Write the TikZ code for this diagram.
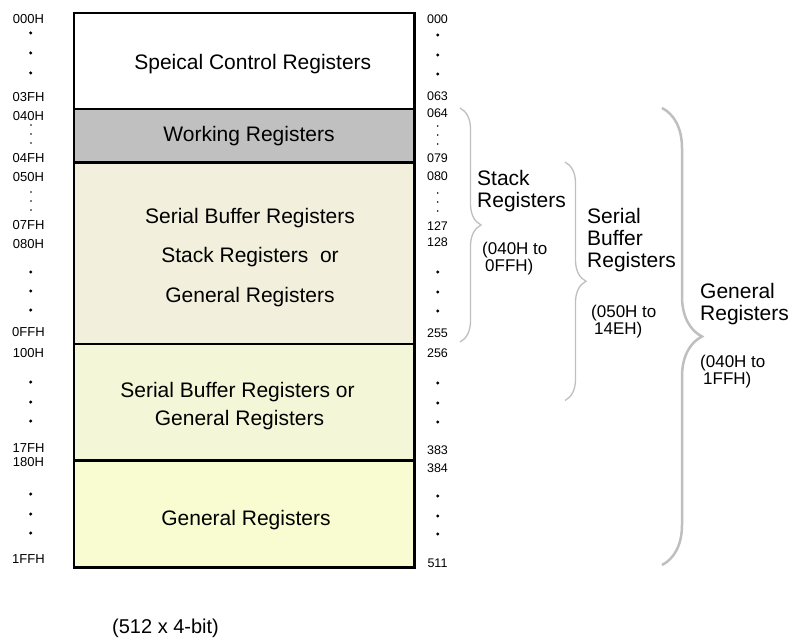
\documentclass[tikz,border=0pt]{standalone}
\usepackage{fontspec}
\setmainfont{Liberation Sans}
\usetikzlibrary{decorations.pathreplacing}
\tikzset{
  hexlabel/.style={font=\fontsize{13}{15}\selectfont, inner sep=0pt, anchor=base},
  declabel/.style={font=\fontsize{12.5}{15}\selectfont, inner sep=0pt, anchor=base},
  boxtext/.style={font=\fontsize{21}{24}\selectfont, inner sep=0pt, anchor=base},
  bracetext/.style={font=\fontsize{21}{22}\selectfont, inner sep=0pt, anchor=north west, align=left},
  rangetext/.style={font=\fontsize{17}{17}\selectfont, inner sep=0pt, anchor=north west, align=left},
  regbrace/.style={draw={rgb, 255:red, 191; green, 191; blue, 191}, line width=1.3, decorate, decoration={brace, amplitude=#1}},
  regline/.style={line width=2.7, line cap=rect}
}

\begin{document}
\begin{tikzpicture}[x=1pt,y=1pt,yscale=-1,xscale=1]
\useasboundingbox (0,0) rectangle (790,639);

%Shape: Rectangle (register areas)
\fill [color={rgb, 255:red, 192; green, 192; blue, 192 }] (74,109) rectangle (414.5,162.5);
\fill [color={rgb, 255:red, 242; green, 240; blue, 220 }] (74,162.5) rectangle (414.5,344);
\fill [color={rgb, 255:red, 243; green, 247; blue, 216 }] (74,344) rectangle (414.5,460.5);
\fill [color={rgb, 255:red, 249; green, 252; blue, 208 }] (74,460.5) rectangle (414.5,567.5);
%Straight Lines
\foreach \y in {109,162.5,344,460.5}
  \draw [regline] (74,\y) -- (414.5,\y);
\draw [regline] (74,13) rectangle (414.5,567.5);

% Text Node
\node (sctext) [boxtext] at (252.8,70) {Speical Control Registers};
\node (wrtext) [boxtext] at (249,142) {Working Registers};
\node (sbtextA) [boxtext] at (250,223.5) {Serial Buffer Registers};
\node (sbtextB) [boxtext] at (250,262.5) {Stack Registers\ \ or};
\node (sbtextC) [boxtext] at (250,302.5) {General Registers};
\node (sgtextA) [boxtext] at (237.5,397) {Serial Buffer Registers or};
\node (sgtextB) [boxtext] at (239.5,425) {General Registers};
\node (gentext) [boxtext] at (246,525) {General Registers};

% Text Node (hex addresses)
\node (hA) [hexlabel] at (28.5,24) {000H};
\node (hB) [hexlabel] at (28.5,102) {03FH};
\node (hC) [hexlabel] at (28.5,121) {040H};
\node (hD) [hexlabel] at (28.5,163) {04FH};
\node (hE) [hexlabel] at (28.5,181.5) {050H};
\node (hF) [hexlabel] at (28.5,229.5) {07FH};
\node (hG) [hexlabel] at (28.5,248) {080H};
\node (hH) [hexlabel] at (28.5,336.5) {0FFH};
\node (hI) [hexlabel] at (28.5,357) {100H};
\node (hJ) [hexlabel] at (28.5,452.5) {17FH};
\node (hK) [hexlabel] at (28.5,466.5) {180H};
\node (hL) [hexlabel] at (28.5,563.5) {1FFH};

% Text Node (decimal addresses)
\node (dA) [declabel] at (437.5,23.5) {000};
\node (dB) [declabel] at (437.5,100.5) {063};
\node (dC) [declabel] at (437.5,117.5) {064};
\node (dD) [declabel] at (437.5,162.5) {079};
\node (dE) [declabel] at (437.5,180.5) {080};
\node (dF) [declabel] at (437.5,230.5) {127};
\node (dG) [declabel] at (437.5,246.5) {128};
\node (dH) [declabel] at (437.5,337.5) {255};
\node (dI) [declabel] at (437.5,357.5) {256};
\node (dJ) [declabel] at (437.5,454.5) {383};
\node (dK) [declabel] at (437.5,472.5) {384};
\node (dL) [declabel] at (437.5,567.5) {511};

%Shape: Circle (dots)
\foreach \y in {33,53,73,272,291,310,382,402,421,494,514,533}
  \fill (30.7,\y) circle (1.7);
\foreach \y in {125,134,143,192,201,210}
  \fill (31,\y) circle (0.9);
\foreach \y in {35,55,74,272,292,311,383,403,422,496,516,534}
  \fill (437.7,\y) circle (1.7);
\foreach \y in {126,135,144,193,202,211}
  \fill (437.7,\y) circle (0.9);

%Braces
\coordinate (stkTop) at (460,108);
\coordinate (stkBot) at (460,342);
\coordinate (sbTop) at (565,162);
\coordinate (sbBot) at (565,400.5);
\coordinate (genTop) at (662,108);
\coordinate (genBot) at (662,565);
\draw [regbrace=21] (stkTop) -- (stkBot);
\draw [regbrace=21] (sbTop) -- (sbBot);
\draw [regbrace=40, line width=2.5] (genTop) -- (genBot);

% Text Node (brace labels)
\node (stklabel) [bracetext] at (477,170) {Stack\\Registers};
\node (stkrange) [rangetext] at (482,242) {(040H to\\\hspace{3pt}0FFH)};
\node (sblabel) [bracetext] at (587,208) {Serial\\Buffer\\Registers};
\node (sbrange) [rangetext] at (591,305) {(050H to\\\hspace{3pt}14EH)};
\node (genlabel) [bracetext] at (700,283) {General\\Registers};
\node (genrange) [rangetext] at (700,355) {(040H to\\\hspace{3pt}1FFH)};

% Text Node
\node (sizetext) [font=\fontsize{20}{24}\selectfont, inner sep=0pt, anchor=base west] at (112,633) {(512 x 4-bit)};
\end{tikzpicture}
\end{document}
